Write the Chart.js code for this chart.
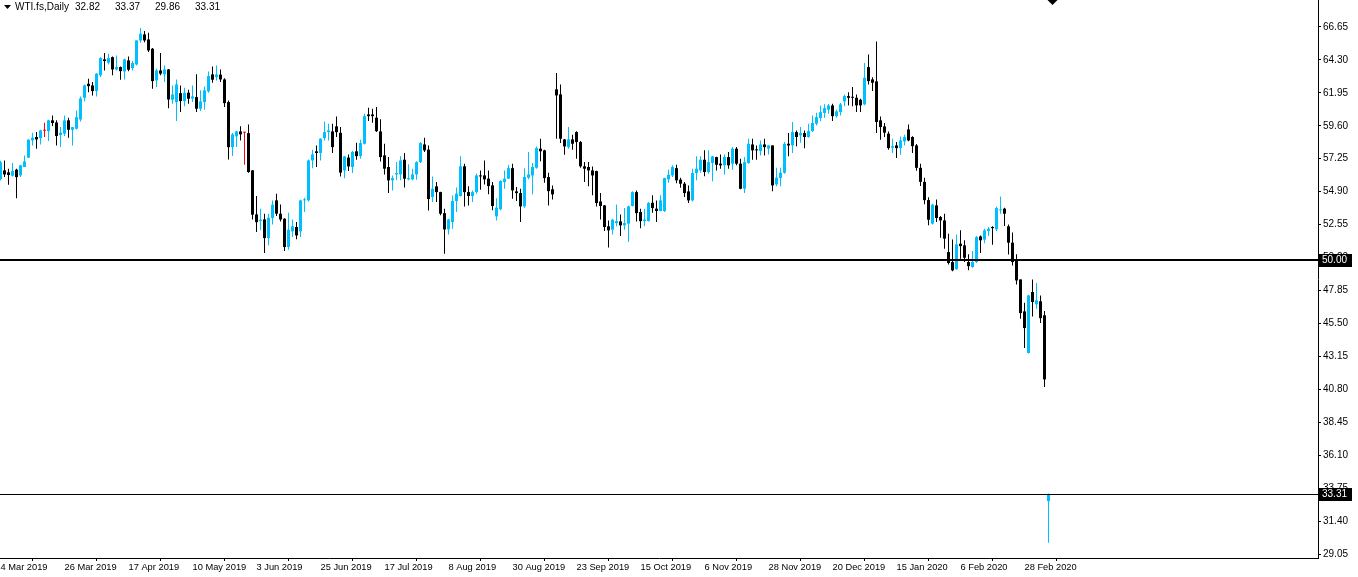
<!DOCTYPE html>
<html lang="en">
<head>
<meta charset="UTF-8" />
<title>WTI.fs Daily</title>
<script src="https://cdn.jsdelivr.net/npm/chart.js"></script>
<style>
  html, body { margin: 0; padding: 0; background: #fff; }
  canvas { display: block; }
</style>
</head>
<body>
<canvas id="chart" width="1358" height="577"></canvas>
<script>
// daily bars, 4 Mar 2019 .. 9 Mar 2020 (bar index = x position)
const opens = [
  55.8, 56.42, 56.28, 56.04, 56.47, 56.06, 56.66, 57.33, 58.56, 58.8,
  58.72, 59.25, 59.22, 59.99, 59.84, 58.94, 59.04, 59.99, 59.32, 59.39,
  60.05, 61.6, 62.6, 62.48, 62.08, 63.2, 64.34, 64.1, 64.5, 63.62,
  63.79, 63.48, 64.27, 63.72, 63.98, 65.69, 66.12, 65.76, 65.1, 62.84,
  63.55, 63.27, 63.62, 61.46, 61.29, 61.93, 61.36, 61.96, 61.55, 61.65,
  60.82, 61.29, 62.06, 63.27, 63.07, 63.25, 62.91, 61.29, 58.08, 58.85,
  59.2, 59.11, 59.08, 56.42, 53.28, 52.8, 52.92, 51.59, 53.02, 54.28,
  53.33, 52.97, 50.95, 52.07, 52.38, 52.07, 54.28, 54.28, 57.13, 57.78,
  57.66, 58.72, 59.15, 59.2, 59.56, 59.1, 56.42, 57.33, 56.66, 57.78,
  57.44, 58.32, 60.41, 60.41, 60.18, 59.2, 57.49, 56.66, 55.71, 56.13,
  56.13, 57.18, 55.78, 55.78, 56.13, 57.01, 58.27, 57.9, 54.52, 55.28,
  54.87, 53.37, 52.21, 52.73, 54.23, 54.59, 56.71, 54.87, 54.59, 54.87,
  56.06, 56.06, 55.83, 55.35, 53.14, 53.64, 55.59, 55.83, 56.58, 54.92,
  54.8, 53.85, 55.9, 56.06, 56.61, 57.97, 57.85, 55.94, 55.07, 62.2,
  61.84, 58.63, 58.08, 58.63, 59.15, 58.44, 56.71, 56.66, 56.42, 56.37,
  54.2, 53.92, 52.43, 52.19, 52.66, 52.78, 52.5, 52.62, 53.88, 54.87,
  53.45, 52.8, 52.8, 54.11, 53.69, 53.52, 53.52, 55.78, 56.06, 56.58,
  55.76, 55.47, 54.92, 54.28, 56.23, 56.42, 57.18, 56.3, 56.94, 57.37,
  56.9, 56.78, 57.37, 56.9, 57.97, 56.9, 55.11, 56.94, 58.27, 57.92,
  57.8, 58.27, 57.97, 58.2, 55.42, 55.87, 56.25, 58.32, 58.2, 59.15,
  58.92, 59.08, 58.8, 59.22, 59.75, 60.15, 60.51, 60.75, 61.05, 60.29,
  60.58, 61.34, 61.72, 61.65, 61.6, 61.46, 61.13, 63.79, 62.91, 62.77,
  59.99, 59.56, 59.04, 58.04, 58.2, 58.01, 58.49, 59.34, 58.8, 58.2,
  56.6, 55.6, 54.3, 52.62, 53.92, 53.09, 52.85, 50.59, 49.88, 49.36,
  51.19, 51.07, 49.88, 49.52, 49.88, 51.71, 51.48, 52.09, 52.38, 52.21,
  53.57, 53.69, 52.43, 51.26, 49.95, 48.64, 46.36, 43.39, 47.74, 46.86,
  47.08, 46.08, 32.82
];
const highs = [
  57.1, 57.13, 56.54, 56.94, 56.54, 56.83, 57.49, 58.65, 59.11, 59.15,
  59.32, 59.82, 60.04, 60.34, 59.99, 59.51, 60.34, 60.18, 59.51, 60.7,
  61.7, 62.55, 62.96, 62.72, 63.36, 64.5, 64.79, 64.74, 64.55, 64.62,
  63.84, 64.38, 64.55, 64.22, 65.7, 66.57, 66.36, 66.24, 65.15, 63.67,
  64.79, 63.91, 63.66, 62.48, 62.91, 62.48, 62.32, 62.18, 62.48, 63.27,
  62.13, 62.41, 63.48, 63.84, 63.91, 63.62, 63.0, 61.41, 59.08, 59.25,
  59.56, 59.15, 59.7, 56.45, 54.59, 53.69, 53.33, 53.33, 54.28, 54.76,
  53.99, 53.0, 53.4, 52.92, 52.73, 54.33, 54.47, 57.2, 57.9, 58.2,
  58.72, 59.9, 59.75, 59.75, 60.27, 59.51, 57.45, 57.56, 57.8, 58.39,
  58.6, 60.46, 60.89, 60.82, 60.94, 60.06, 58.32, 57.37, 56.06, 57.01,
  57.42, 57.66, 56.85, 56.54, 57.08, 58.44, 58.75, 58.2, 55.99, 55.59,
  54.9, 53.69, 52.97, 54.64, 55.19, 57.42, 56.9, 55.28, 54.99, 56.18,
  56.42, 57.13, 56.42, 55.59, 54.44, 55.71, 56.42, 56.82, 56.9, 55.23,
  55.11, 56.58, 57.73, 56.94, 58.13, 58.68, 57.9, 56.25, 55.35, 63.36,
  62.55, 58.66, 59.51, 58.97, 59.22, 58.51, 57.01, 57.01, 56.7, 56.4,
  54.8, 53.95, 52.85, 52.97, 53.99, 53.28, 53.73, 53.92, 54.94, 54.99,
  53.69, 53.69, 54.16, 54.64, 54.28, 54.64, 55.9, 56.47, 56.78, 56.82,
  55.9, 55.59, 55.35, 56.54, 57.42, 57.42, 57.85, 57.85, 57.45, 57.4,
  57.56, 57.56, 57.73, 58.08, 58.08, 57.25, 57.37, 58.68, 58.68, 58.2,
  58.56, 58.68, 58.22, 58.22, 56.61, 56.61, 58.44, 59.08, 59.87, 59.27,
  59.51, 59.27, 59.75, 60.34, 60.54, 61.05, 61.13, 61.15, 61.18, 60.75,
  61.22, 61.84, 62.0, 62.36, 61.84, 61.53, 64.08, 64.69, 63.07, 65.62,
  60.27, 59.8, 59.2, 58.68, 58.44, 58.84, 58.97, 59.7, 58.85, 58.3,
  56.9, 55.9, 54.5, 54.04, 54.35, 53.16, 53.33, 51.9, 51.48, 51.85,
  52.14, 51.43, 50.43, 50.66, 51.73, 51.78, 52.26, 52.38, 52.43, 53.85,
  54.56, 53.76, 52.55, 51.98, 50.43, 48.64, 46.98, 47.55, 48.64, 48.38,
  47.5, 46.39, 33.37
];
const lows = [
  55.7, 55.95, 55.4, 55.99, 54.44, 55.94, 56.66, 57.3, 58.2, 57.97,
  58.27, 58.8, 58.51, 59.58, 58.2, 58.08, 58.87, 58.75, 58.2, 59.34,
  59.9, 61.35, 62.0, 61.77, 61.7, 63.08, 63.55, 63.98, 63.2, 63.55,
  62.89, 62.91, 63.5, 63.55, 63.9, 65.53, 65.57, 64.86, 62.25, 62.36,
  63.2, 62.72, 60.86, 61.18, 59.94, 60.58, 61.0, 61.18, 61.29, 60.58,
  60.65, 60.75, 61.96, 62.67, 62.84, 62.72, 60.94, 57.2, 57.44, 58.08,
  58.56, 56.82, 56.25, 52.92, 52.02, 52.14, 50.52, 51.07, 52.55, 53.16,
  52.78, 50.66, 50.76, 51.66, 51.5, 51.66, 53.45, 54.2, 56.58, 56.66,
  57.13, 58.56, 58.56, 57.66, 58.8, 55.99, 55.85, 56.37, 56.23, 57.18,
  57.25, 58.27, 59.94, 59.82, 59.15, 57.06, 56.13, 54.8, 54.99, 55.71,
  55.71, 55.19, 55.71, 55.71, 55.76, 56.94, 57.73, 53.55, 54.16, 54.16,
  53.21, 50.48, 51.85, 52.26, 53.45, 54.55, 53.85, 53.92, 54.16, 54.76,
  55.04, 55.42, 54.71, 53.57, 52.85, 53.57, 55.11, 55.8, 54.4, 54.23,
  52.73, 53.76, 55.78, 54.71, 56.54, 57.08, 55.54, 53.92, 54.35, 58.68,
  58.37, 57.54, 57.97, 57.9, 57.25, 56.61, 55.59, 55.28, 54.64, 53.85,
  52.92, 52.09, 50.91, 51.85, 52.43, 51.73, 52.19, 51.31, 53.85, 52.78,
  52.3, 52.43, 52.78, 53.4, 52.73, 53.5, 53.45, 55.54, 55.94, 55.51,
  55.18, 54.52, 54.09, 54.2, 55.71, 56.25, 56.01, 56.18, 55.64, 56.42,
  56.54, 56.13, 56.54, 56.47, 56.78, 55.08, 54.8, 56.9, 57.18, 57.18,
  57.49, 57.49, 57.56, 54.94, 55.28, 55.28, 56.18, 57.42, 57.66, 58.15,
  58.39, 58.0, 58.75, 59.15, 59.63, 59.92, 60.18, 60.46, 59.94, 60.18,
  60.34, 60.99, 61.05, 60.99, 60.58, 60.58, 61.06, 62.55, 62.08, 59.08,
  58.61, 58.8, 57.9, 57.66, 57.3, 57.54, 58.2, 58.49, 57.66, 56.4,
  55.3, 54.0, 52.5, 52.55, 52.73, 51.62, 50.83, 49.71, 49.22, 49.36,
  50.12, 49.88, 49.29, 49.48, 49.81, 50.52, 51.23, 51.73, 51.12, 52.09,
  53.33, 52.45, 50.41, 49.64, 48.27, 45.84, 43.74, 43.35, 46.0, 46.55,
  45.53, 40.96, 29.86
];
const closes = [
  57.0, 56.13, 56.09, 56.37, 55.94, 56.78, 57.06, 58.61, 58.75, 58.63,
  59.27, 59.25, 59.99, 59.8, 58.87, 59.11, 59.99, 59.32, 59.51, 60.22,
  61.55, 62.48, 62.43, 62.08, 63.32, 64.43, 64.22, 64.43, 63.62, 63.79,
  63.5, 64.34, 63.6, 64.08, 65.69, 66.17, 65.69, 64.98, 62.79, 63.55,
  63.32, 63.62, 61.48, 61.84, 62.55, 61.36, 61.96, 61.53, 61.7, 60.82,
  61.34, 62.13, 63.15, 62.89, 63.27, 62.91, 61.22, 58.08, 58.99, 59.2,
  58.99, 59.11, 56.3, 53.26, 52.73, 52.9, 51.59, 53.04, 53.97, 53.33,
  52.92, 50.95, 52.19, 52.43, 51.78, 54.28, 54.35, 57.13, 57.56, 57.66,
  58.68, 59.15, 59.27, 58.08, 59.15, 56.26, 57.42, 56.7, 57.73, 57.44,
  58.37, 60.29, 60.29, 60.29, 59.22, 57.37, 56.54, 55.71, 55.87, 56.23,
  57.13, 55.83, 55.87, 56.13, 57.01, 58.37, 57.85, 54.38, 55.11, 54.87,
  53.33, 52.21, 52.92, 54.23, 54.76, 56.71, 54.87, 54.59, 54.87, 56.06,
  55.99, 55.78, 55.3, 53.88, 53.76, 55.66, 55.83, 56.58, 54.99, 54.8,
  53.85, 55.94, 56.13, 56.66, 58.01, 57.78, 55.87, 54.94, 54.71, 61.77,
  58.68, 58.13, 58.63, 58.32, 58.44, 56.71, 56.54, 56.42, 56.06, 54.09,
  53.88, 52.38, 52.14, 52.9, 52.8, 52.5, 52.66, 53.85, 54.87, 53.37,
  52.8, 52.92, 54.09, 53.73, 53.52, 54.28, 55.87, 56.11, 56.66, 55.71,
  55.47, 54.8, 54.28, 56.23, 56.54, 57.18, 56.3, 57.01, 57.42, 56.82,
  56.78, 57.37, 56.78, 57.97, 56.9, 55.11, 57.01, 58.32, 57.85, 57.85,
  58.27, 58.08, 58.2, 55.35, 55.9, 56.25, 58.32, 58.2, 59.15, 58.8,
  59.08, 58.8, 59.22, 59.8, 60.22, 60.58, 60.86, 61.05, 60.29, 60.63,
  61.13, 61.72, 61.6, 61.6, 61.06, 61.06, 63.03, 62.79, 62.67, 59.87,
  59.51, 59.11, 58.01, 58.15, 58.01, 58.56, 58.8, 58.56, 58.15, 56.6,
  55.6, 54.3, 52.9, 53.97, 53.02, 52.85, 51.55, 49.81, 49.29, 51.14,
  51.02, 50.19, 49.59, 49.88, 51.66, 51.43, 52.14, 52.26, 52.3, 53.73,
  53.64, 53.33, 51.26, 49.88, 48.57, 46.24, 45.17, 47.5, 47.03, 47.15,
  45.88, 41.51, 33.31
];

// one date label every 16 bars
const tickLabels = [
  '4 Mar 2019', '26 Mar 2019', '17 Apr 2019', '10 May 2019', '3 Jun 2019',
  '25 Jun 2019', '17 Jul 2019', '8 Aug 2019', '30 Aug 2019', '23 Sep 2019',
  '15 Oct 2019', '6 Nov 2019', '28 Nov 2019', '20 Dec 2019', '15 Jan 2020',
  '6 Feb 2020', '28 Feb 2020'
];
const priceTicks = [66.65, 64.30, 61.95, 59.60, 57.25, 54.90, 52.55, 50.20, 47.85,
  45.50, 43.15, 40.80, 38.45, 36.10, 33.75, 31.40, 29.05];
const levelLines = [50.00, 33.31];
const symbolName = 'WTI.fs,Daily';
const lastOHLC = ['32.82', '33.37', '29.86', '33.31'];

const BULL = '#00BFFF', BEAR = '#000000', DOJI = '#FF0000';
const FONT = 'Liberation Sans, Arial, sans-serif';

function candleColor(i){
  if(closes[i] > opens[i]) return BULL;
  if(closes[i] < opens[i]) return BEAR;
  return DOJI;
}

const wicks = lows.map((l, i) => ({x: i, y: [l, highs[i]]}));
const bodies = opens.map((o, i) => ({x: i, y: [o, closes[i]]}));

// level lines with black price boxes, header text, chart shift marker
const overlay = {
  id: 'overlay',
  afterDatasetsDraw(chart){
    const {ctx, chartArea, scales} = chart;
    ctx.save();
    levelLines.forEach((v, k) => {
      const y = Math.round(scales.y.getPixelForValue(v));
      ctx.fillStyle = '#000';
      if(k === 0) ctx.fillRect(chartArea.left, y - 1, chartArea.right - chartArea.left, 2);
      else ctx.fillRect(chartArea.left, y, chartArea.right - chartArea.left, 1);
    });
    ctx.restore();
  },
  afterDraw(chart){
    const {ctx, chartArea, scales} = chart;
    ctx.save();
    ctx.font = '10px ' + FONT;
    ctx.textBaseline = 'middle';
    levelLines.forEach(v => {
      const y = Math.round(scales.y.getPixelForValue(v));
      ctx.fillStyle = '#000';
      ctx.fillRect(chartArea.right + 1, y - 6, 33, 13);
      ctx.fillStyle = '#fff';
      ctx.fillText(v.toFixed(2), chartArea.right + 4, y + 0.5);
    });
    // header
    ctx.fillStyle = '#000';
    ctx.beginPath();
    ctx.moveTo(4, 5); ctx.lineTo(11, 5); ctx.lineTo(7.5, 9);
    ctx.closePath(); ctx.fill();
    ctx.fillText(symbolName, 15, 7.5);
    lastOHLC.forEach((t, k) => ctx.fillText(t, 75 + k * 40, 7.5));
    // shift marker above last bar
    const sx = scales.x.getPixelForValue(263);
    ctx.beginPath();
    ctx.moveTo(sx - 5, 0); ctx.lineTo(sx + 5, 0); ctx.lineTo(sx, 5);
    ctx.closePath(); ctx.fill();
    ctx.restore();
  }
};

new Chart(document.getElementById('chart'), {
  type: 'bar',
  data: {
    datasets: [
      {
        label: 'wick', data: wicks, barThickness: 1, grouped: false, order: 2,
        backgroundColor: ctx => candleColor(ctx.dataIndex),
        inflateAmount: 0, borderWidth: 0, minBarLength: 1
      },
      {
        label: 'body', data: bodies, barThickness: 3, grouped: false, order: 1,
        backgroundColor: ctx => candleColor(ctx.dataIndex),
        inflateAmount: 0, borderWidth: 0, minBarLength: 1
      }
    ]
  },
  options: {
    responsive: false,
    animation: false,
    devicePixelRatio: 1,
    layout: { padding: 0 },
    plugins: { legend: { display: false }, tooltip: { enabled: false } },
    scales: {
      x: {
        type: 'linear', offset: false,
        min: -0.125, max: 329.375,
        grid: { display: true, drawOnChartArea: false, drawTicks: true, tickLength: 3, color: '#000' },
        border: { display: true, color: '#000', width: 1 },
        afterBuildTicks: s => { s.ticks = tickLabels.map((t, k) => ({value: k * 16})); },
        afterFit: s => { s.height = 19; s.paddingLeft = 0; s.paddingRight = 0; },
        ticks: {
          autoSkip: false, maxRotation: 0, align: 'start', padding: 1,
          color: '#000', font: { family: FONT, size: 9.3 },
          callback: v => tickLabels[Math.round(v / 16)]
        }
      },
      y: {
        position: 'right',
        min: 28.765, max: 68.576,
        grid: { display: true, drawOnChartArea: false, drawTicks: true, tickLength: 3, color: '#000' },
        border: { display: true, color: '#000', width: 1 },
        afterBuildTicks: s => { s.ticks = priceTicks.map(v => ({value: v})); },
        afterFit: s => { s.width = 40; s.paddingTop = 0; s.paddingBottom = 0; },
        ticks: {
          crossAlign: 'near', padding: 2,
          color: '#000', font: { family: FONT, size: 10 },
          callback: v => v.toFixed(2)
        }
      }
    }
  },
  plugins: [overlay]
});
</script>
</body>
</html>
